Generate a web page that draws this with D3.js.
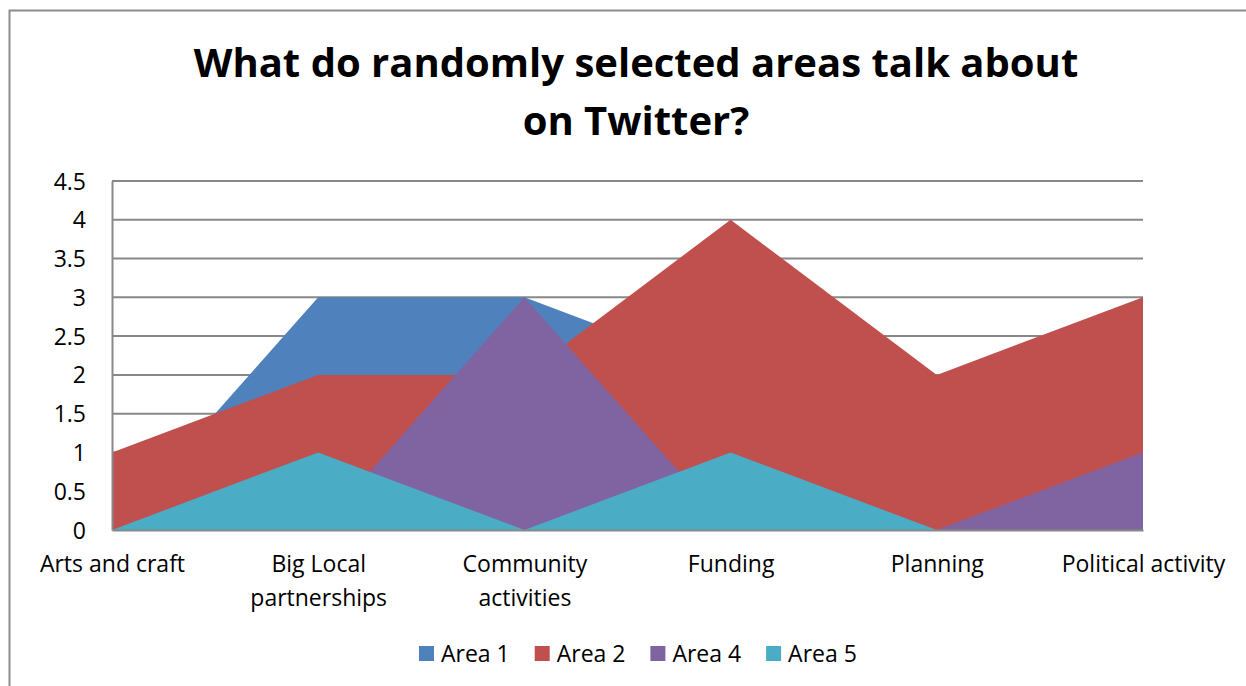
<!DOCTYPE html>
<html>
<head>
<meta charset="utf-8">
<script src="https://cdn.jsdelivr.net/npm/d3@7"></script>
<style>
  html, body { margin: 0; padding: 0; background: #fff; }
  svg { display: block; }
  text { font-family: "Open Sans", Lato, sans-serif; fill: #000; }
</style>
</head>
<body>
<svg id="chart" width="1246" height="686"></svg>
<script>
// Topics discussed on Twitter, per area
const categories = ["Arts and craft", "Big Local partnerships", "Community activities", "Funding", "Planning", "Political activity"];
const seriesNames = ["Area 1", "Area 2", "Area 4", "Area 5"];
const area1 = [0, 3, 3, 2, 1, 1];
const area2 = [1, 2, 2, 4, 2, 3];
const area4 = [0, 0, 3, 0, 0, 1];
const area5 = [0, 1, 0, 1, 0, 0];
const seriesColors = ["#4F81BD", "#C0504D", "#8064A2", "#4BACC6"];
const yTicks = [0, 0.5, 1, 1.5, 2, 2.5, 3, 3.5, 4, 4.5];
const titleLines = ["What do randomly selected areas talk about", "on Twitter?"];

const seriesValues = [area1, area2, area4, area5];
const series = seriesNames.map((name, i) => ({ name, color: seriesColors[i], values: seriesValues[i] }));

const svg = d3.select("#chart");
const W = 1246, H = 686;
const plot = { left: 112, right: 1143, top: 181, bottom: 530 };
const labelSize = "23px";

// Outer chart frame
svg.append("rect")
  .attr("x", 9.5).attr("y", 10.5)
  .attr("width", W + 20).attr("height", H + 20)
  .attr("fill", "none").attr("stroke", "#8c8c8c").attr("stroke-width", 2);

// Title
const title = svg.append("text")
  .attr("text-anchor", "middle")
  .style("font-weight", "bold")
  .style("font-size", "40px");
titleLines.forEach((t, i) => {
  title.append("tspan").attr("x", 636).attr("y", 77 + i * 58).text(t);
});

const x = d3.scalePoint().domain(categories).range([plot.left, plot.right]).padding(0);
const y = d3.scaleLinear().domain([0, 4.5]).range([plot.bottom, plot.top]);

// Horizontal gridlines (behind the areas)
svg.append("g")
  .selectAll("line")
  .data(yTicks.filter(d => d > 0))
  .join("line")
  .attr("x1", plot.left).attr("x2", plot.right)
  .attr("y1", d => y(d)).attr("y2", d => y(d))
  .attr("stroke", "#888").attr("stroke-width", 2);

// Overlapping areas, drawn in series order
const area = d3.area()
  .x((d, i) => x(categories[i]))
  .y0(y(0))
  .y1(d => y(d));

svg.append("g")
  .selectAll("path")
  .data(series)
  .join("path")
  .attr("d", d => area(d.values))
  .attr("fill", d => d.color);

// Value axis
const yAxis = svg.append("g")
  .attr("transform", `translate(${plot.left},0)`)
  .call(d3.axisLeft(y).tickValues(yTicks).tickSize(0).tickPadding(26).tickFormat(d3.format("")));
yAxis.select(".domain").attr("stroke", "#888").attr("stroke-width", 2);
yAxis.selectAll("text").style("font-size", labelSize).attr("dy", "0.35em");

// Category axis
const xAxis = svg.append("g")
  .attr("transform", `translate(0,${plot.bottom})`)
  .call(d3.axisBottom(x).tickSize(0).tickPadding(0));
xAxis.select(".domain").attr("stroke", "#888").attr("stroke-width", 2);
xAxis.selectAll("text").remove();

const step = x.step();
const catText = xAxis.selectAll("g.tick")
  .append("text")
  .attr("text-anchor", "middle")
  .style("font-size", labelSize);

// Wrap category labels to the width of one category interval
catText.each(function(d) {
  const el = d3.select(this);
  const words = d.split(" ");
  const lines = [];
  let line = [];
  const probe = el.append("tspan");
  words.forEach(w => {
    const trial = line.concat(w).join(" ");
    probe.text(trial);
    if (line.length && probe.node().getComputedTextLength() > step - 20) {
      lines.push(line.join(" "));
      line = [w];
    } else {
      line.push(w);
    }
  });
  lines.push(line.join(" "));
  probe.remove();
  lines.forEach((l, i) => {
    el.append("tspan").attr("x", 0).attr("y", 42 + i * 34).text(l);
  });
});

// Legend
const legend = svg.append("g").attr("transform", "translate(419,0)");
const item = legend.selectAll("g")
  .data(series)
  .join("g")
  .attr("transform", (d, i) => `translate(${i * 115.7},0)`);
item.append("rect")
  .attr("x", 0).attr("y", 646)
  .attr("width", 15).attr("height", 15)
  .attr("fill", d => d.color);
item.append("text")
  .attr("x", 22).attr("y", 662)
  .style("font-size", labelSize)
  .text(d => d.name);
</script>
</body>
</html>
